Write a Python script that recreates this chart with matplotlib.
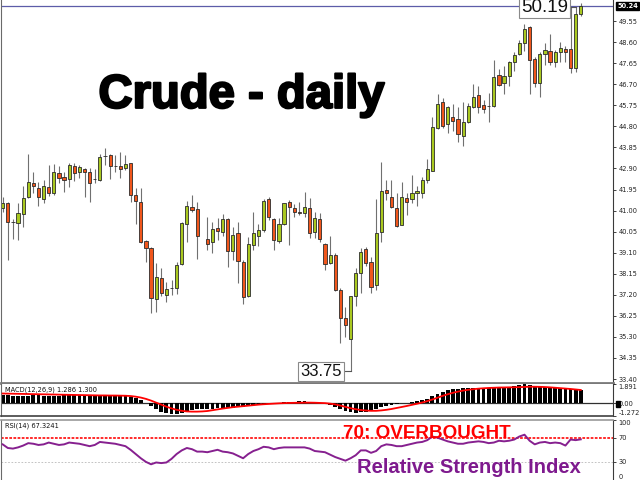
import numpy as np
import matplotlib
matplotlib.use("Agg")
import matplotlib.pyplot as plt
import matplotlib.patheffects as pe
from matplotlib.patches import Rectangle

nan = np.nan

# Daily OHLC (one bar missing at index 39)
opens = [41.10, 41.35, 40.50, 40.42, 40.84, 41.60, 42.26, 42.03, 41.51, 42.05,
         41.78, 42.69, 42.51, 42.41, 43.01, 42.72, 42.86, 42.72, 42.42, 42.38,
         43.46, 43.50, 43.01, 43.01, 42.90, 43.13, 41.70, 41.40, 39.63, 39.32,
         37.01, 37.94, 37.19, 37.50, 37.49, 38.57, 40.38, 41.15, 41.07, nan,
         39.70, 39.57, 40.20, 40.04, 40.60, 39.19, 39.97, 38.69, 37.14, 39.44,
         39.85, 40.12, 41.51, 40.60, 39.64, 40.38, 41.37, 41.10, 40.91, 40.90,
         41.10, 40.02, 40.60, 39.49, 38.62, 38.99, 37.41, 36.14, 35.20, 37.14,
         38.20, 39.25, 38.69, 37.64, 40.04, 41.93, 41.62, 41.10, 40.35, 41.55,
         41.51, 41.78, 41.80, 42.38, 42.80, 44.74, 45.88, 44.90, 45.23, 45.12,
         44.36, 45.01, 45.66, 46.21, 45.75, 45.72, 45.71, 47.11, 46.77, 47.07,
         47.71, 48.06, 48.54, 49.29, 47.82, 46.74, 48.05, 48.20, 47.69, 48.14,
         48.27, 48.29, 47.42, 49.87]
highs = [41.61, 41.40, 40.62, 41.34, 42.11, 43.55, 42.74, 42.30, 42.38, 43.05,
         43.10, 43.01, 42.75, 43.16, 43.13, 43.05, 42.90, 42.90, 42.86, 43.55,
         43.81, 43.54, 43.50, 43.65, 43.50, 43.16, 42.00, 42.00, 39.67, 39.37,
         38.62, 38.39, 37.76, 37.87, 38.69, 40.50, 41.44, 41.70, 41.40, nan,
         40.72, 40.47, 40.65, 40.84, 40.65, 40.27, 40.48, 38.77, 39.82, 40.95,
         40.39, 41.51, 41.62, 40.65, 40.65, 41.35, 41.47, 41.28, 41.40, 41.85,
         41.55, 40.95, 40.87, 39.55, 39.85, 39.07, 37.49, 36.63, 37.16, 38.39,
         39.30, 39.37, 38.92, 41.51, 43.20, 42.38, 42.38, 41.78, 42.30, 41.80,
         42.60, 42.11, 42.53, 43.31, 45.21, 46.26, 46.09, 45.73, 45.81, 45.68,
         45.91, 45.84, 46.71, 46.62, 45.99, 46.32, 47.79, 47.37, 47.52, 47.76,
         48.16, 48.69, 49.41, 49.32, 47.94, 48.16, 48.57, 48.96, 48.24, 48.62,
         48.42, 50.19, 50.19, 50.35]
lows = [40.93, 38.77, 39.72, 39.67, 40.26, 41.55, 41.79, 41.20, 41.34, 41.66,
        41.70, 42.26, 41.85, 42.05, 42.35, 42.45, 41.62, 41.40, 42.23, 42.35,
        43.05, 42.41, 42.75, 42.45, 42.83, 41.40, 40.39, 39.55, 38.69, 36.36,
        36.44, 37.14, 36.89, 37.19, 37.23, 38.54, 39.59, 40.95, 38.80, nan,
        39.22, 39.10, 39.67, 39.85, 38.45, 38.77, 37.72, 36.80, 37.10, 39.22,
        39.40, 40.04, 40.57, 39.22, 39.55, 40.35, 39.44, 40.72, 40.80, 40.72,
        39.75, 39.75, 39.59, 38.32, 38.57, 37.38, 35.01, 35.31, 33.75, 36.69,
        37.29, 38.50, 37.27, 37.41, 39.59, 41.47, 41.10, 40.27, 40.33, 40.80,
        41.33, 41.20, 41.55, 42.26, 42.78, 44.66, 44.74, 44.51, 44.59, 44.10,
        43.91, 44.96, 45.62, 45.41, 45.39, 45.01, 45.66, 46.62, 46.26, 46.62,
        47.31, 48.02, 48.21, 46.26, 46.56, 46.13, 47.56, 47.56, 47.49, 47.69,
        47.71, 47.22, 47.26, 49.78]
closes = [41.35, 40.47, 40.48, 40.87, 41.55, 42.29, 42.12, 41.62, 42.12, 41.80,
          42.75, 42.47, 42.39, 43.05, 42.68, 42.95, 42.72, 42.26, 42.41, 43.43,
          43.45, 43.02, 43.00, 42.86, 43.10, 41.70, 41.43, 39.59, 39.32, 37.04,
          37.99, 37.27, 37.46, 37.49, 38.53, 40.45, 41.20, 41.02, 39.85, nan,
          39.49, 40.17, 40.09, 40.60, 39.19, 39.90, 38.74, 37.09, 39.49, 39.97,
          40.12, 41.43, 40.72, 39.67, 40.38, 41.33, 41.17, 40.92, 40.90, 41.15,
          39.97, 40.65, 39.72, 38.57, 38.99, 37.41, 36.14, 35.84, 37.14, 38.17,
          39.14, 38.65, 37.56, 39.97, 41.89, 41.78, 41.15, 40.30, 41.62, 41.37,
          41.78, 41.89, 42.38, 42.86, 44.78, 45.81, 44.81, 45.66, 45.05, 44.44,
          45.01, 45.73, 46.13, 45.66, 45.57, 45.71, 47.01, 46.66, 47.08, 47.69,
          48.02, 48.54, 49.17, 47.79, 46.74, 48.06, 48.24, 47.69, 48.14, 48.32,
          48.16, 47.42, 49.87, 50.24]

# MACD(12,26,9): histogram (main) and signal line
macd_hist = [0.80, 0.78, 0.74, 0.72, 0.72, 0.74, 0.76, 0.76, 0.75, 0.74,
             0.74, 0.75, 0.76, 0.76, 0.77, 0.77, 0.76, 0.74, 0.72, 0.74,
             0.76, 0.76, 0.75, 0.73, 0.71, 0.62, 0.50, 0.30, 0.05, -0.30,
             -0.60, -0.85, -1.00, -1.10, -1.12, -1.00, -0.85, -0.72, -0.62, -0.60,
             -0.58, -0.55, -0.52, -0.50, -0.47, -0.44, -0.40, -0.36, -0.30, -0.22,
             -0.14, -0.06, 0.00, 0.02, 0.05, 0.10, 0.14, 0.16, 0.17, 0.18,
             0.12, 0.08, 0.02, -0.10, -0.22, -0.38, -0.58, -0.78, -0.90, -0.95,
             -0.92, -0.85, -0.80, -0.62, -0.42, -0.28, -0.18, -0.12, -0.02, 0.05,
             0.14, 0.22, 0.32, 0.45, 0.70, 0.95, 1.10, 1.25, 1.35, 1.40,
             1.45, 1.48, 1.52, 1.52, 1.52, 1.52, 1.58, 1.58, 1.60, 1.62,
             1.66, 1.80, 1.891, 1.78, 1.72, 1.68, 1.62, 1.58, 1.52, 1.48,
             1.42, 1.35, 1.30, 1.286]
macd_signal = [0.95, 0.94, 0.93, 0.92, 0.91, 0.90, 0.89, 0.88, 0.87, 0.86,
               0.85, 0.84, 0.83, 0.82, 0.81, 0.80, 0.79, 0.78, 0.77, 0.76,
               0.76, 0.75, 0.75, 0.74, 0.73, 0.70, 0.64, 0.55, 0.42, 0.25,
               0.05, -0.15, -0.35, -0.52, -0.66, -0.76, -0.82, -0.84, -0.84, -0.82,
               -0.78, -0.70, -0.62, -0.54, -0.47, -0.40, -0.35, -0.30, -0.25, -0.20,
               -0.15, -0.11, -0.08, -0.05, -0.02, 0.00, 0.02, 0.03, 0.04, 0.05,
               0.05, 0.04, 0.02, 0.00, -0.05, -0.12, -0.24, -0.37, -0.50, -0.60,
               -0.68, -0.73, -0.76, -0.76, -0.72, -0.66, -0.58, -0.48, -0.38, -0.28,
               -0.17, -0.06, 0.06, 0.20, 0.36, 0.54, 0.72, 0.88, 1.02, 1.14,
               1.24, 1.32, 1.38, 1.43, 1.47, 1.50, 1.52, 1.54, 1.55, 1.56,
               1.57, 1.58, 1.60, 1.62, 1.62, 1.61, 1.59, 1.56, 1.52, 1.48,
               1.44, 1.40, 1.35, 1.30]

# RSI(14)
rsi = [59, 53, 52, 54, 57, 61, 60, 58, 59, 62,
       60, 58, 59, 62, 61, 60, 58, 56, 58, 63,
       62, 61, 60, 58, 56, 50, 43, 36, 30, 26,
       29, 28, 29, 35, 43, 49, 53, 51, 47, 47,
       46, 48, 50, 47, 46, 44, 40, 36, 43, 48,
       51, 55, 54, 51, 53, 54, 54, 54, 54, 54,
       52, 48, 47, 46, 42, 38, 35, 32, 36, 41,
       49, 49, 45, 48, 56, 59, 58, 56, 56, 58,
       60, 62, 63, 66, 72, 70, 67, 64, 62, 60,
       60, 62, 63, 64, 63, 61, 62, 65, 64, 65,
       67, 72, 75, 65, 59, 62, 63, 61, 62, 61,
       57, 67, 66, 67.3241]

price_ticks = [33.40, 34.35, 35.30, 36.25, 37.20, 38.15, 39.10, 40.05, 41.00,
               41.95, 42.90, 43.85, 44.80, 45.75, 46.70, 47.65, 48.60, 49.55]
last_price = 50.24
high_mark = 50.19
low_mark = 33.75

GREEN = '#a9c820'
ORANGE = '#f0561c'
EDGE = '#2b2b2b'
WICK = '#707070'
TICKFONT = dict(fontsize=4.8, family='DejaVu Sans')

fig = plt.figure(figsize=(6.4, 4.8), dpi=100)
ax = fig.add_axes([1 / 640, 1 - 383 / 480, 612 / 640, 383 / 480])
ax_m = fig.add_axes([1 / 640, 1 - 416 / 480, 612 / 640, 32 / 480])
ax_r = fig.add_axes([1 / 640, 0, 612 / 640, 60.4 / 480])

x = np.arange(len(opens))
o, h, l, c = (np.array(v, dtype=float) for v in (opens, highs, lows, closes))
ok = ~np.isnan(o)
up = ok & (c >= o)
dn = ok & (c < o)
body = np.maximum(np.abs(c - o), 0.02)

ax.vlines(x[ok], l[ok], h[ok], color=WICK, lw=0.8, zorder=1)
ax.bar(x[up], body[up], bottom=o[up], width=0.62, color=GREEN,
       edgecolor=EDGE, linewidth=0.6, zorder=2)
ax.bar(x[dn], body[dn], bottom=c[dn], width=0.62, color=ORANGE,
       edgecolor=EDGE, linewidth=0.6, zorder=2)

# bid line
ax.axhline(last_price, color='#5c5ca8', lw=0.9, zorder=0)

# marked low / high
i_low = int(np.nanargmin(l))
ax.plot([i_low - 1.3, i_low], [low_mark, low_mark], color='#555555', lw=0.8)
ax.text(i_low - 1.75, low_mark, f'{low_mark:.2f}', ha='right', va='center',
        fontsize=12, family='Liberation Sans', color='#111111', zorder=5,
        bbox=dict(boxstyle='square,pad=0.12', fc='white', ec='#8a8a8a', lw=0.8))
ax.plot([110.9, 112], [high_mark, high_mark], color='#555555', lw=0.8)
ax.text(110.45, 50.15, f'{high_mark:.2f}', ha='right', va='center',
        fontsize=13.5, family='Liberation Sans', color='#111111', zorder=5,
        bbox=dict(boxstyle='square,pad=0.1', fc='white', ec='#8a8a8a', lw=0.8))

ax.set_ylim(33.22, 50.50)
ax.yaxis.tick_right()
ax.set_yticks(price_ticks)
ax.set_yticklabels([f'{t:.2f}' for t in price_ticks], **TICKFONT)
ax.annotate(f'{last_price:.2f}', xy=(1.0, last_price), xycoords=('axes fraction', 'data'),
            xytext=(3, 0), textcoords='offset points', ha='left', va='center',
            color='white', fontsize=4.8, fontweight='bold',
            bbox=dict(boxstyle='square,pad=0.15', fc='black', ec='black'))

# MACD panel
ax_m.bar(x, macd_hist, width=0.75, color='black', zorder=2)
ax_m.plot(x, macd_signal, color='red', lw=1.3, zorder=3)
ax_m.axhline(0, color='#303030', lw=0.9, zorder=1)
ax_m.set_ylim(-1.272, 1.891)
ax_m.yaxis.tick_right()
ax_m.set_yticks([-1.272, 0, 1.891])
ax_m.set_yticklabels(['-1.272', '0.00', '1.891'], **TICKFONT)
labs = ax_m.get_yticklabels()
labs[0].set_va('bottom')
labs[2].set_va('top')
ax_m.text(0.006, 0.83, 'MACD(12,26,9) 1.286 1.300', transform=ax_m.transAxes,
          fontsize=4.8, va='center', color='#111111')

# RSI panel
ax_r.plot(x, rsi, color='#86208f', lw=1.4, zorder=3)
ax_r.axhline(70, color='#ff1a1a', lw=1.3, ls=(0, (1.5, 0.8)), zorder=2)
ax_r.axhline(30, color='#b8b8b8', lw=0.6, ls=(0, (2, 2)), zorder=1)
ax_r.set_ylim(0, 100)
ax_r.yaxis.tick_right()
ax_r.set_yticks([0, 30, 70, 100])
ax_r.set_yticklabels(['0', '30', '70', '100'], **TICKFONT)
labs = ax_r.get_yticklabels()
labs[0].set_va('bottom')
labs[3].set_va('top')
ax_r.text(0.006, 0.9, 'RSI(14) 67.3241', transform=ax_r.transAxes,
          fontsize=4.8, va='center', color='#111111')

for a in (ax, ax_m, ax_r):
    a.set_xlim(-0.33, 119.3)
    a.set_xticks([])
    a.tick_params(axis='y', direction='out', length=2.5, width=0.6, pad=1.5,
                  colors='#222222')
    a.spines['left'].set_color('#6a6a6a')
    a.spines['right'].set_color('#3a3a3a')
    a.spines['top'].set_visible(False)
    a.spines['bottom'].set_visible(False)
ax.spines['bottom'].set_visible(True)
ax.spines['bottom'].set_color('#7a7a7a')
ax.spines['bottom'].set_linewidth(2)
ax_m.spines['bottom'].set_visible(True)
ax_m.spines['bottom'].set_color('#404040')
ax_m.spines['bottom'].set_linewidth(1.2)
ax_r.spines['top'].set_visible(True)
ax_r.spines['top'].set_color('#9a9a9a')
ax_r.spines['top'].set_linewidth(1.2)

fig.patches.append(Rectangle((615.5 / 640, 1 - 406.5 / 480), 4.5 / 640, 6 / 480,
                             transform=fig.transFigure, color='black'))

# captions
heavy = [pe.withStroke(linewidth=1.6, foreground='black')]
fig.text(98.5 / 640, 1 - 107.8 / 480, 'Crude - daily', fontsize=34,
         fontweight='bold', family='Liberation Sans', color='black',
         ha='left', va='baseline', path_effects=heavy)
fig.text(343.3 / 640, 1 - 438.5 / 480, '70: OVERBOUGHT', fontsize=13.6,
         fontweight='bold', family='Liberation Sans', color='#ff0000',
         ha='left', va='baseline')
fig.text(356.7 / 640, 1 - 472.7 / 480, 'Relative Strength Index', fontsize=14.5,
         fontweight='bold', family='Liberation Sans', color='#7e1a8e',
         ha='left', va='baseline')

fig.savefig('out.png', dpi=100, facecolor='white')
